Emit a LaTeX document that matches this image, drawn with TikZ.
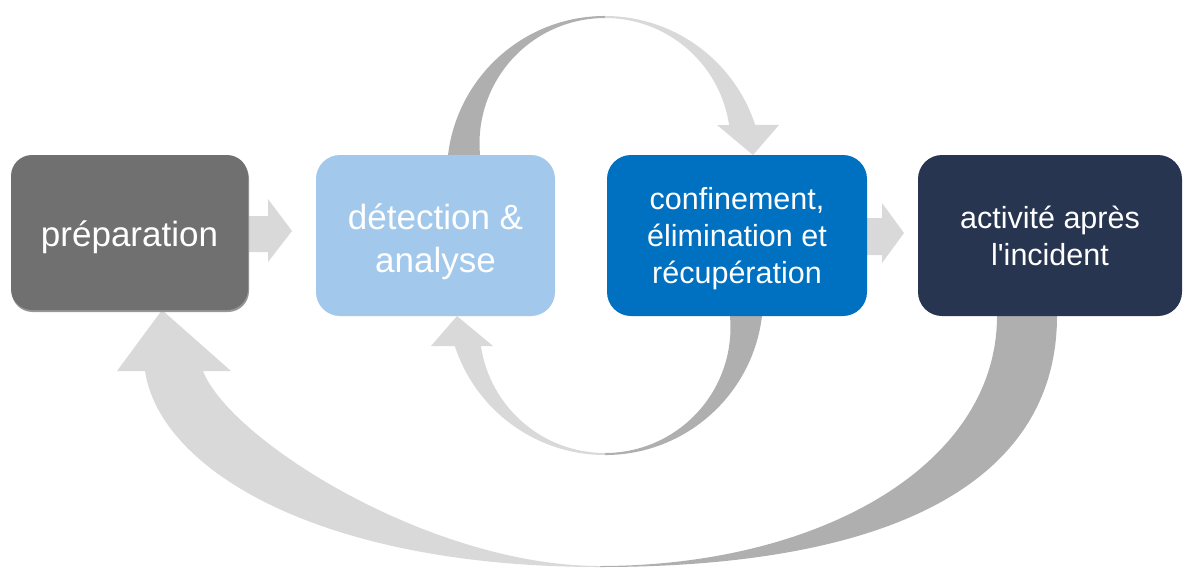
\documentclass[tikz,border=0pt]{standalone}
\usepackage{fontspec}
\setmainfont{Liberation Sans}
\definecolor{boxA}{RGB}{112,112,112}
\definecolor{boxB}{RGB}{162,200,236}
\definecolor{boxC}{RGB}{0,112,192}
\definecolor{boxD}{RGB}{40,53,80}
\definecolor{arrLight}{RGB}{217,217,217}
\definecolor{arrDark}{RGB}{175,175,175}
\newcommand\halfloopshape{%
  \fill[darkarm] (448,-155) arc[start angle=173.1, end angle=90, radius=158]
     -- (605,-18) arc[start angle=90, end angle=185.26, radius=125.5] -- cycle;
  \fill[lightarm] (605,-16) arc[start angle=90, end angle=18.1, radius=158]
     -- (779,-125) -- (753,-155) -- (717,-125) -- (729.1,-125)
     arc[start angle=8.48, end angle=90, radius=125.5] -- cycle;
}
\begin{document}
\begin{tikzpicture}[x=1pt,y=1pt,
  stage/.style={rounded corners=24pt, inner sep=0pt, text=white, align=center,
                minimum height=161pt},
  bigfont/.style={font=\fontsize{35}{43}\selectfont},
  smallfont/.style={font=\fontsize{30.5}{37}\selectfont},
  lightarm/.style={fill=arrLight},
  darkarm/.style={fill=arrDark}]
\useasboundingbox (0,0) rectangle (1201,-568);

% top loop: detection -> confinement
\halfloopshape
% bottom loop: confinement -> detection
\begin{scope}[rotate around={180:(605,-235.5)}]
  \halfloopshape
\end{scope}

% big loop: activite -> preparation
\fill[darkarm] (997,-316) -- (1057,-316)
   .. controls (1057,-479) and (897,-567) .. (600,-567)
   -- (600,-566) .. controls (818,-566) and (997,-466) .. (997,-316) -- cycle;
\fill[lightarm] (600,-567) .. controls (320,-567) and (160,-470) .. (145,-371)
   -- (117,-371) -- (162,-310) -- (231,-371) -- (203,-371)
   .. controls (230,-440) and (430,-566) .. (600,-566) -- cycle;

% straight arrows
\fill[lightarm] (240,-216) -- (268,-216) -- (268,-199) -- (292,-231)
   -- (268,-262) -- (268,-252) -- (240,-252) -- cycle;
\fill[lightarm] (860,-218) -- (882,-218) -- (882,-203) -- (904,-233)
   -- (882,-263) -- (882,-255) -- (860,-255) -- cycle;

% boxes
\fill[rounded corners=21pt, fill={rgb,255:red,150;green,150;blue,150}]
   (11.5,-157.5) rectangle (249,-312);
\node[stage, bigfont, fill=boxA, minimum width=237pt, minimum height=155pt,
      rounded corners=21pt] (prep) at (129.5,-232.5) {\rule{0pt}{36pt}préparation};
\node[stage, bigfont, fill=boxB, minimum width=239pt] (det) at (435.5,-235.5)
      {\rule{0pt}{39pt}détection \&\\analyse};
\node[stage, smallfont, fill=boxC, minimum width=260pt] (conf) at (737,-235.5)
      {\rule{0pt}{27.5pt}confinement,\\élimination et\\récupération};
\node[stage, smallfont, fill=boxD, minimum width=264pt] (act) at (1050,-235.5)
      {activité après\\l\textquotesingle incident};
\end{tikzpicture}
\end{document}
